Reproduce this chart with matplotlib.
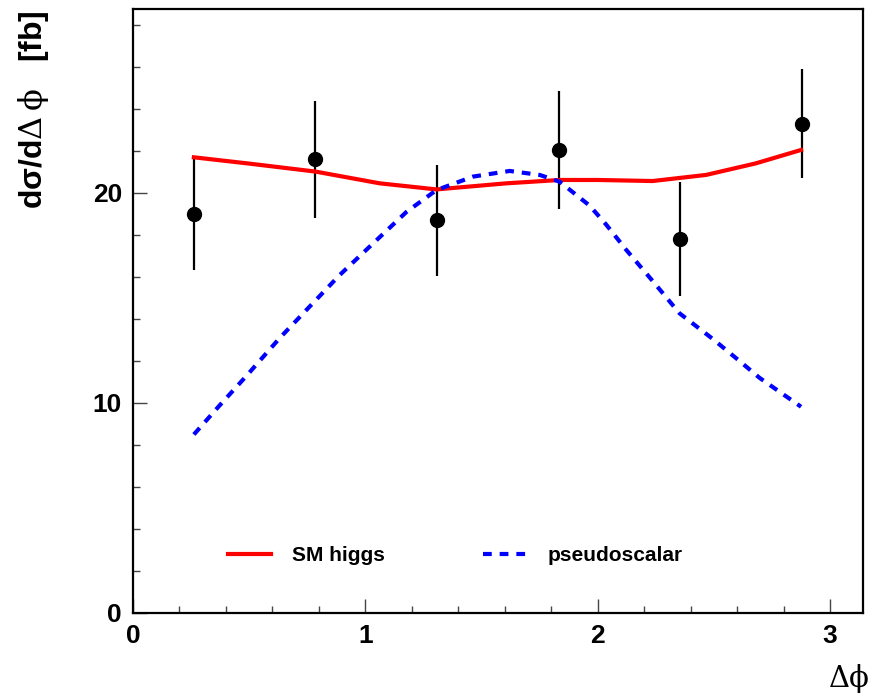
import matplotlib
matplotlib.use("Agg")
import matplotlib.pyplot as plt
from matplotlib.ticker import MultipleLocator

# measured points (bin centres in delta phi)
data_x = [0.262, 0.785, 1.309, 1.833, 2.356, 2.880]
data_y = [19.0, 21.6, 18.7, 22.05, 17.8, 23.3]
data_err = [2.67, 2.8, 2.65, 2.8, 2.7, 2.6]

# SM higgs prediction
sm_x = [0.262, 0.5, 0.785, 1.062, 1.306, 1.606, 1.836, 2.0, 2.236, 2.466, 2.68, 2.875]
sm_y = [21.7, 21.4, 21.02, 20.46, 20.17, 20.46, 20.62, 20.62, 20.57, 20.86, 21.41, 22.05]

# pseudoscalar prediction
ps_x = [0.262, 0.374, 0.489, 0.632, 0.804, 0.89, 1.062, 1.177, 1.306, 1.463, 1.621,
        1.75, 1.836, 1.965, 2.036, 2.122, 2.237, 2.352, 2.495, 2.61, 2.696, 2.875]
ps_y = [8.5, 9.9, 11.3, 13.1, 15.1, 16.1, 17.9, 19.1, 20.14, 20.78, 21.05,
        20.86, 20.54, 19.4, 18.5, 17.3, 15.8, 14.27, 13.05, 12.0, 11.2, 9.82]

plt.rcParams["font.family"] = ["Liberation Sans", "DejaVu Sans"]
plt.rcParams["font.weight"] = "bold"
plt.rcParams["mathtext.fontset"] = "custom"
plt.rcParams["mathtext.rm"] = "DejaVu Serif:weight=normal"
plt.rcParams["mathtext.bf"] = "Liberation Sans:weight=bold"

fig = plt.figure(figsize=(8.75, 6.96), dpi=100)
ax = fig.add_axes([0.152, 0.1193, 0.8343, 0.8677])

ax.errorbar(data_x, data_y, yerr=data_err, fmt="o", color="black",
            markersize=10, elinewidth=1.6, capsize=0, zorder=2)
ax.plot(sm_x, sm_y, color="red", lw=3, label="SM higgs", zorder=3)
ax.plot(ps_x, ps_y, color="blue", lw=3, dashes=(2.1, 1.9), label="pseudoscalar", zorder=3)

ax.set_xlim(0, 3.1416)
ax.set_ylim(0, 28.76)
ax.xaxis.set_major_locator(MultipleLocator(1))
ax.xaxis.set_minor_locator(MultipleLocator(0.2))
ax.yaxis.set_major_locator(MultipleLocator(10))
ax.yaxis.set_minor_locator(MultipleLocator(2))
ax.tick_params(which="both", direction="in", top=False, right=False, width=1, color="#444444")
ax.tick_params(which="major", length=10, labelsize=19, pad=8)
ax.tick_params(which="minor", length=5)
for lab in ax.get_xticklabels() + ax.get_yticklabels():
    lab.set_fontweight("bold")
for s in ax.spines.values():
    s.set_linewidth(1.6)

ax.legend(loc="center left", bbox_to_anchor=(0.104, 0.095), ncol=2, frameon=False,
          fontsize=15, handlelength=2.1, handletextpad=1.0, columnspacing=4.7)

fig.text(0.038, 0.986, r"$\mathbf{d\sigma/d}\mathrm{\Delta\,\phi}$   $\mathbf{[fb]}$",
         rotation=90, ha="center", va="top", fontsize=23)
fig.text(0.994, 0.004, "\u0394\u03d5", family=["DejaVu Serif"], fontweight="normal",
         ha="right", va="bottom", fontsize=21)

fig.savefig("out.png", dpi=100)
